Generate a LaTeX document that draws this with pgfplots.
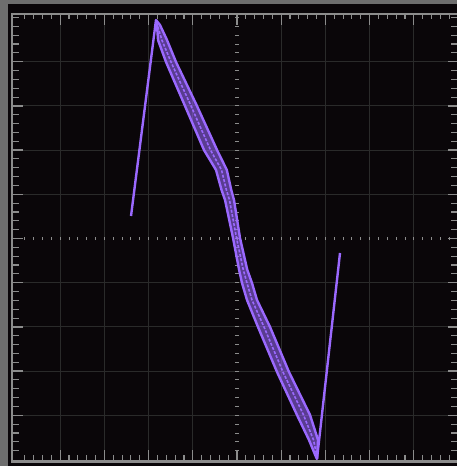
\documentclass[border=0pt]{standalone}
\usepackage{pgfplots}
\pgfplotsset{compat=1.18}
\definecolor{scopebg}{HTML}{0A0609}
\definecolor{bezel}{HTML}{6E6E6E}
\definecolor{framec}{HTML}{8C8C8C}
\definecolor{gridc}{HTML}{2A2A2A}
\definecolor{trace}{RGB}{155,105,255}

\begin{document}
\begin{tikzpicture}
\begin{axis}[
  width=457pt, height=466pt, scale only axis,
  xmin=-5.362, xmax=4.977, ymin=-5.147, ymax=5.396,
  axis lines=none, clip=true,
]
% screen and bezel
\fill[scopebg] (rel axis cs:0,0) rectangle (rel axis cs:1,1);
\fill[bezel] (axis cs:-5.362,-5.147) rectangle (axis cs:-5.18,5.396);
\fill[bezel] (axis cs:-5.362,5.31) rectangle (axis cs:4.977,5.396);
% graticule
\pgfplotsinvokeforeach{-4,-3,-2,-1,1,2,3,4}{
  \draw[gridc, line width=1.1pt] (axis cs:#1,-5.045) -- (axis cs:#1,5.079);
  \draw[gridc, line width=1.1pt] (axis cs:-5.09,#1) -- (axis cs:5.0,#1);
}
% minor ticks on the border and centre lines
\pgfplotsinvokeforeach{-4.8,-4.6,...,4.9}{
  \draw[framec, line width=1.1pt] (axis cs:#1,5.079) -- (axis cs:#1,4.96);
  \draw[framec, line width=1.1pt] (axis cs:#1,-5.045) -- (axis cs:#1,-4.895);
  \draw[framec, line width=1.1pt] (axis cs:-5.09,#1) -- (axis cs:-4.93,#1);
  \draw[framec, line width=1.1pt] (axis cs:5.0,#1) -- (axis cs:4.84,#1);
  \draw[framec, line width=0.9pt] (axis cs:#1,-0.035) -- (axis cs:#1,0.035);
  \draw[framec, line width=0.9pt] (axis cs:-0.045,#1) -- (axis cs:0.045,#1);
}
% major ticks
\pgfplotsinvokeforeach{-4,-3,-2,-1,0,1,2,3,4}{
  \draw[framec, line width=1.3pt] (axis cs:#1,5.079) -- (axis cs:#1,4.84);
  \draw[framec, line width=1.3pt] (axis cs:#1,-5.045) -- (axis cs:#1,-4.79);
  \draw[framec, line width=1.3pt] (axis cs:-5.09,#1) -- (axis cs:-4.84,#1);
  \draw[framec, line width=1.3pt] (axis cs:5.0,#1) -- (axis cs:4.78,#1);
}
% border
\draw[framec, line width=2.4pt] (axis cs:5.2,5.079) -- (axis cs:-5.09,5.079)
  -- (axis cs:-5.09,-5.045) -- (axis cs:5.2,-5.045);

% trace: speckled body of the falling ramp
\addplot[draw=none, fill=trace, fill opacity=0.55] coordinates {
  (-1.833,4.943) (-1.810,4.830) (-1.787,4.491) (-1.606,3.993) (-1.176,2.998)
  (-0.747,2.002) (-0.475,1.550) (-0.350,1.098) (-0.271,0.871) (-0.090,0.011)
  (0.045,-0.700) (0.113,-1.007) (0.226,-1.391) (0.475,-2.002) (0.905,-3.020)
  (1.357,-3.993) (1.629,-4.559) (1.787,-4.943) (1.833,-4.943) (1.833,-4.559)
  (1.652,-3.993) (1.176,-3.020) (0.747,-2.002) (0.452,-1.391) (0.339,-1.007)
  (0.230,-0.700) (0.068,0.011) (-0.068,0.871) (-0.130,1.098) (-0.230,1.550)
  (-0.452,2.002) (-0.905,2.998) (-1.380,3.993) (-1.584,4.491) (-1.742,4.830)
  (-1.810,4.943)
} -- cycle;
% rising edge, inner falling trace, rising edge
\addplot[trace, line width=2.4pt, line join=round] coordinates {
  (-2.398,0.509) (-1.833,4.943) (-1.810,4.830) (-1.787,4.491) (-1.606,3.993)
  (-1.176,2.998) (-0.747,2.002) (-0.475,1.550) (-0.350,1.098) (-0.271,0.871)
  (-0.090,0.011) (0.045,-0.700) (0.113,-1.007) (0.226,-1.391) (0.475,-2.002)
  (0.905,-3.020) (1.357,-3.993) (1.629,-4.559) (1.787,-4.943) (1.810,-4.985)
  (2.330,-0.328)
};
% outer falling trace
\addplot[trace, line width=2.4pt, line join=round] coordinates {
  (-1.833,4.943) (-1.742,4.830) (-1.584,4.491) (-1.380,3.993) (-0.905,2.998)
  (-0.452,2.002) (-0.230,1.550) (-0.130,1.098) (-0.068,0.871) (0.068,0.011)
  (0.230,-0.700) (0.339,-1.007) (0.452,-1.391) (0.747,-2.002) (1.176,-3.020)
  (1.652,-3.993) (1.833,-4.559) (1.810,-4.985)
};
% middle falling trace
\addplot[trace, line width=1.6pt, line join=round, dash pattern=on 3pt off 1.5pt] coordinates {
  (-1.822,4.89) (-1.700,4.491) (-1.493,3.993) (-1.040,2.998) (-0.600,2.002)
  (-0.350,1.550) (-0.240,1.098) (-0.170,0.871) (-0.011,0.011) (0.140,-0.700)
  (0.226,-1.007) (0.339,-1.391) (0.611,-2.002) (1.040,-3.020) (1.505,-3.993)
  (1.731,-4.559) (1.810,-4.943)
};
\end{axis}
\end{tikzpicture}
\end{document}
